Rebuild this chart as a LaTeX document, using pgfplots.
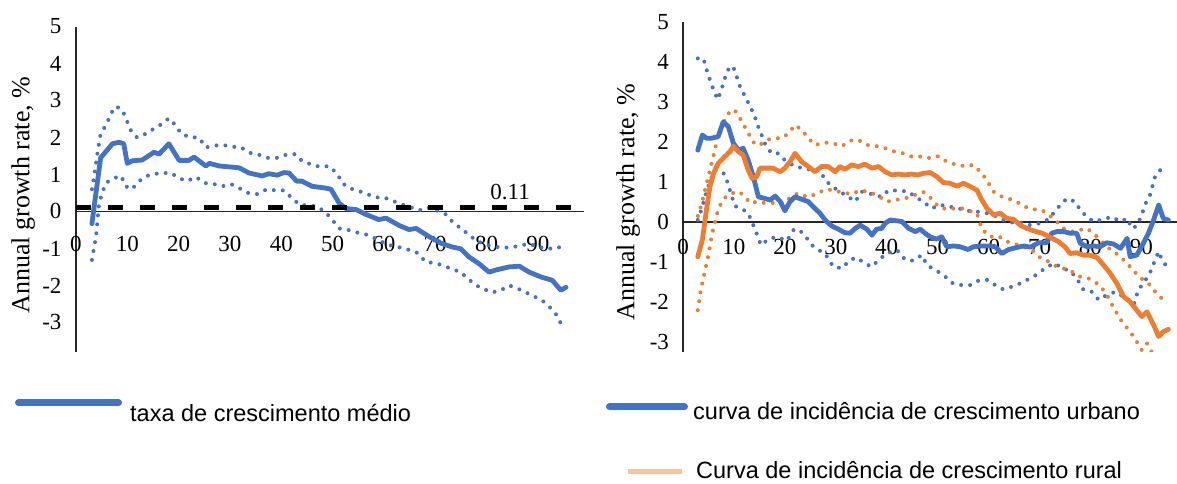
\documentclass[border=0pt]{standalone}
\usepackage{fontspec}
\setmainfont{Liberation Serif}
\newfontfamily\arial{Liberation Sans}
\usepackage{pgfplots}
\pgfplotsset{compat=1.18}
\definecolor{cblue}{HTML}{4472C4}
\definecolor{corange}{HTML}{ED7D31}
\definecolor{cpeach}{HTML}{F8C4A0}
\pgfplotsset{
  cgr/.style={
    scale only axis, anchor=south west,
    axis x line=middle, axis y line=left,
    axis line style={-, line width=1.8pt, black!85},
    xtick={0,10,...,90}, xticklabels={0,10,20,30,40,50,60,70,80,90},
    ytick={-3,...,5}, yticklabels={-3,-2,-1,0,1,2,3,4,5},
    major tick length=0pt,
    hide obscured x ticks=false, hide obscured y ticks=false,
    tick label style={font=\fontsize{23}{27}\selectfont},
    ylabel={Annual growth rate, \%},
    clip=true,
  },
  mean/.style={line width=4.8pt, line join=round, line cap=round},
  band/.style={line width=4pt, line cap=round, dash pattern=on 0pt off 9pt},
}
\begin{document}
\begin{tikzpicture}
\useasboundingbox (0,0) rectangle (1177pt,484pt);
% ---------------- left chart ----------------
\begin{axis}[cgr, at={(76pt,132pt)}, width=508pt, height=325.5pt,
  xmin=0, xmax=99, ymin=-3.8, ymax=5,
  xticklabel style={yshift=-21pt}, yticklabel style={xshift=-11pt},
  ylabel style={at={(axis description cs:-0.104,0.482)}, anchor=center, font=\fontsize{26}{30}\selectfont},
]
\addplot[band, cblue] coordinates {
(3.1,0.6) (3.6,1.0) (4.1,1.5) (4.8,2.1) (6,2.37) (6.8,2.65) (7.8,2.84) (9,2.75) (10.7,2.19) (11.9,2.0) (13.6,2.1) (15.2,2.24) (16.8,2.37) (18.1,2.52) (19.5,2.32) (20.5,2.1) (22,2.02) (24,1.99) (25.3,1.73) (26.9,1.78) (28.5,1.8) (30.4,1.75) (32.2,1.73) (33.7,1.59) (35.7,1.53) (37.2,1.45) (39.2,1.45) (40.9,1.53) (42.7,1.55) (44,1.37) (46,1.26) (47.8,1.2) (49.3,1.23) (50.9,1.02) (51.9,0.77) (53.2,0.63) (54.8,0.57) (56.7,0.47) (58.5,0.38) (60,0.38) (62,0.27) (63.5,0.19) (65.3,0.11) (66.9,0.03) (68.4,0.11) (70.2,0.03) (72.1,-0.08) (73.3,-0.27) (75,-0.46) (76.6,-0.63) (78,-0.79) (79.9,-0.9) (81.9,-0.96) (84.4,-0.98) (86.4,-0.93) (88.3,-0.87) (89.9,-0.96) (92.2,-1.01) (93.8,-0.96) (95.5,-1.01)
};
\addplot[band, cblue] coordinates {
(3.1,-1.31) (3.9,-0.68) (4.5,0.22) (5.1,0.49) (5.8,0.77) (7.4,0.9) (8.8,0.96) (9.7,0.68) (10.9,0.6) (12.3,0.82) (13.8,0.96) (15.6,1.02) (17.2,1.04) (18.5,1.04) (20.1,0.9) (21.6,0.82) (23.4,0.93) (25,0.77) (26.9,0.74) (28.5,0.68) (30.2,0.74) (31.8,0.63) (33.7,0.49) (35.3,0.47) (37.2,0.6) (39,0.57) (40.5,0.57) (42.1,0.36) (43.5,0.19) (45,0.16) (46.8,0.14) (48.5,0.0) (49.9,-0.22) (51.3,-0.46) (52.8,-0.49) (54.8,-0.57) (56.7,-0.63) (58.5,-0.74) (60,-0.85) (61.6,-0.93) (63.4,-0.98) (64.9,-1.04) (66.5,-1.12) (68.2,-1.37) (69.8,-1.39) (71.3,-1.45) (73.3,-1.56) (75,-1.64) (76.2,-1.8) (78,-2.0) (79.5,-2.1) (81.1,-2.19) (82.8,-2.13) (84.4,-2.0) (86,-2.08) (87.7,-2.19) (89.3,-2.3) (90.8,-2.4) (92.2,-2.57) (93.6,-2.79) (94.5,-3.03)
};
\addplot[mean, cblue] coordinates {
(3.1,-0.33) (4.8,1.45) (7.1,1.83) (8.4,1.87) (9.3,1.83) (10,1.3) (11,1.37) (12.9,1.39) (15.2,1.6) (16.2,1.55) (18.1,1.83) (20.1,1.38) (22,1.38) (23,1.47) (25.3,1.23) (26,1.3) (27.9,1.23) (31.8,1.18) (33.7,1.04) (36.3,0.96) (37.6,1.02) (39.2,0.98) (40.5,1.05) (41.5,1.04) (43,0.82) (44,0.82) (46,0.68) (48.7,0.63) (49.7,0.6) (51.3,0.22) (52.6,0.08) (54.6,0.05) (56.5,-0.08) (59,-0.22) (60.4,-0.18) (63,-0.38) (64.9,-0.49) (66.3,-0.46) (68.8,-0.68) (71.3,-0.87) (73.3,-0.96) (75,-1.01) (76.6,-1.23) (78.6,-1.42) (80.5,-1.64) (81.9,-1.58) (84.4,-1.5) (86.4,-1.48) (88.3,-1.64) (90.8,-1.78) (92.8,-1.86) (94.5,-2.13) (95.5,-2.05)
};
\addplot[black, line width=4.5pt, dash pattern=on 15pt off 17pt] coordinates {(0,0.11) (99,0.11)};
\node[font=\fontsize{23}{27}\selectfont] at (axis cs:84.6,0.53) {0.11};
\end{axis}
% ---------------- right chart ----------------
\begin{axis}[cgr, at={(683pt,132.3pt)}, width=494pt, height=329.2pt,
  xmin=0, xmax=97, ymin=-3.25, ymax=5,
  xticklabel style={yshift=-14pt}, yticklabel style={xshift=-10.5pt},
  ylabel style={at={(axis description cs:-0.111,0.455)}, anchor=center, font=\fontsize{26}{30}\selectfont},
]
\addplot[band, cblue] coordinates {
(2.9,4.10) (4.0,4.10) (4.6,3.83) (5.3,3.56) (6.0,3.31) (6.8,3.07) (7.5,3.29) (8.1,3.56) (8.8,3.81) (9.8,3.91) (10.5,3.66) (11.2,3.39) (12.2,3.14) (13.2,2.89) (14.0,2.68) (14.7,2.41) (15.5,2.16) (16.2,1.93) (17.4,1.72) (18.7,1.72) (20.0,1.55) (21.0,1.47) (22.0,1.39) (23.6,1.35) (25.3,1.30) (26.9,1.30) (27.9,1.05) (29.2,0.90) (30.8,0.76) (32.5,0.63) (33.8,0.51) (35.1,0.76) (36.4,0.72) (37.7,0.68) (39.0,0.63) (40.3,0.79) (42.3,0.79) (44.3,0.76) (45.6,0.63) (47.2,0.51) (48.8,0.34) (50.5,0.43) (52.5,0.38) (54.1,0.34) (56.1,0.28) (57.7,0.26) (59.7,0.22) (61.3,0.15) (62.9,0.05) (64.9,-0.02) (66.5,-0.02) (68.2,-0.08) (70.1,-0.03) (71.8,0.07) (72.8,0.23) (74.1,0.43) (75.4,0.59) (77.0,0.51) (78.0,0.30) (79.3,0.13) (80.6,0.01) (82.6,0.07) (84.2,0.13) (85.9,0.01) (87.3,0.09) (88.1,-0.16) (89.1,-0.10) (90.1,0.18) (90.7,0.43) (91.7,0.68) (92.7,1.14) (94.0,1.35)
};
\addplot[band, cblue] coordinates {
(2.9,0.05) (3.7,0.34) (4.3,0.63) (5.3,1.01) (6.1,1.30) (7.1,1.29) (8.2,1.20) (8.9,0.93) (9.6,0.63) (10.2,0.40) (11.5,0.34) (12.8,0.22) (13.8,-0.08) (14.5,-0.30) (15.3,-0.58) (16.8,-0.43) (18.4,-0.37) (20.4,-0.47) (21.7,-0.20) (22.7,-0.18) (24.0,-0.35) (25.3,-0.58) (26.6,-0.70) (27.9,-0.79) (29.5,-1.12) (31.2,-1.16) (32.8,-0.95) (34.1,-0.89) (35.7,-1.04) (37.1,-1.12) (38.4,-0.95) (40.0,-0.79) (42,-0.70) (43.6,-0.94) (45.2,-0.97) (46.9,-0.83) (47.9,-1.08) (49.8,-1.22) (51.5,-1.37) (53.1,-1.55) (54.7,-1.58) (56.4,-1.58) (58,-1.47) (59.7,-1.45) (61.3,-1.58) (62.9,-1.69) (64.6,-1.62) (66.2,-1.54) (68.2,-1.41) (69.8,-1.29) (71.4,-1.12) (73.1,-1.04) (74.4,-1.16) (76.0,-1.22) (77.3,-1.41) (78.6,-1.69) (80.3,-1.75) (81.6,-1.95) (83.2,-1.83) (84.9,-1.75) (86.2,-1.85) (87.5,-1.95) (88.5,-2.08) (89.4,-1.70) (90.4,-1.54) (91.7,-1.27) (92.7,-0.95) (93.4,-0.74) (94.0,-0.94) (95.0,-1.12)
};
\addplot[band, corange] coordinates {
(2.9,0.15) (3.7,0.47) (4.3,0.79) (5.0,1.14) (5.6,1.47) (6.2,1.76) (6.8,2.14) (7.6,2.39) (8.8,2.71) (10.1,2.82) (11.2,2.60) (12.2,2.37) (13.2,2.14) (14.1,1.95) (15.1,1.93) (16.4,2.05) (17.7,2.10) (19.4,2.10) (20.7,2.22) (22,2.43) (23.3,2.31) (24.6,2.10) (25.9,1.93) (27.9,1.99) (29.5,1.97) (31.2,1.90) (32.8,2.04) (34.4,2.06) (36.1,1.93) (38.0,1.90) (39.7,1.85) (41.6,1.76) (43.3,1.72) (44.9,1.64) (46.9,1.64) (48.5,1.60) (50.2,1.65) (51.8,1.51) (53.8,1.43) (55.4,1.40) (57.0,1.43) (58.7,1.22) (60.0,0.97) (61.0,0.76) (62.3,0.65) (63.9,0.59) (65.5,0.51) (67.2,0.38) (68.8,0.32) (70.5,0.30) (72.1,0.15) (73.4,0.01) (74.7,-0.16) (76.3,-0.24) (78.0,-0.20) (79.3,-0.16) (80.6,-0.28) (81.9,-0.45) (83.2,-0.62) (84.9,-0.77) (86.5,-0.95) (88.1,-1.16) (89.5,-1.37) (90.4,-1.45) (91.7,-1.58) (93.0,-1.79) (94.3,-1.95)
};
\addplot[band, corange] coordinates {
(2.9,-2.21) (3.5,-1.70) (4.2,-1.29) (5.0,-0.83) (5.6,-0.37) (6.2,-0.03) (6.8,0.26) (7.5,0.48) (8.4,0.63) (9.6,0.72) (11.0,0.76) (12.2,0.63) (13.2,0.47) (14.5,0.51) (15.8,0.48) (17.1,0.48) (18.7,0.47) (20.0,0.48) (21.3,0.65) (22.7,0.72) (24.3,0.63) (26.3,0.70) (27.9,0.82) (29.5,0.80) (31.2,0.74) (33.1,0.70) (34.8,0.79) (36.4,0.76) (38.4,0.65) (40.0,0.51) (41.6,0.55) (43.6,0.59) (45.6,0.68) (47.2,0.75) (48.5,0.62) (50.2,0.38) (51.8,0.32) (53.4,0.34) (55.1,0.34) (56.7,0.26) (57.7,0.22) (58.7,-0.18) (60.3,-0.37) (61.9,-0.35) (63.6,-0.49) (65.2,-0.55) (66.9,-0.63) (68.5,-0.70) (70.1,-0.89) (71.8,-0.99) (73.4,-1.12) (74.7,-1.16) (76.3,-1.24) (78.0,-1.37) (79.6,-1.41) (81.3,-1.54) (82.9,-1.75) (84.6,-2.16) (86.2,-2.50) (87.8,-2.75) (89.1,-3.00) (90.1,-3.21) (91.1,-3.04) (92.0,-3.25) (93,-3.4)
};
\addplot[mean, cblue] coordinates {
(2.9,1.80) (3.8,2.18) (4.6,2.10) (5.6,2.10) (6.9,2.14) (7.9,2.51) (8.9,2.39) (9.9,1.97) (10.9,1.80) (11.8,1.85) (12.8,1.55) (13.8,1.14) (14.8,0.63) (16.1,0.59) (17.1,0.55) (18.1,0.65) (19.1,0.51) (20.0,0.28) (21,0.51) (22,0.63) (23.3,0.57) (24.6,0.51) (25.9,0.34) (26.9,0.22) (27.9,0.05) (29.2,-0.10) (30.5,-0.18) (31.8,-0.27) (32.8,-0.28) (33.8,-0.16) (34.8,-0.08) (36.1,-0.18) (37.1,-0.33) (38.0,-0.18) (39.0,-0.16) (39.7,-0.03) (40.7,0.05) (42,0.03) (43,0.01) (44.3,-0.16) (45.6,-0.24) (46.6,-0.18) (47.5,-0.28) (48.5,-0.37) (49.8,-0.43) (50.8,-0.37) (51.8,-0.62) (53.1,-0.60) (54.4,-0.62) (56.0,-0.69) (57.0,-0.62) (58.7,-0.60) (60.3,-0.60) (61.3,-0.62) (62.6,-0.79) (63.9,-0.69) (65.5,-0.64) (66.9,-0.60) (68.2,-0.63) (69.8,-0.52) (71.4,-0.52) (72.4,-0.28) (73.4,-0.24) (74.7,-0.24) (76.0,-0.28) (77.3,-0.28) (78.0,-0.53) (79.3,-0.62) (80.6,-0.60) (81.9,-0.62) (83.2,-0.52) (84.5,-0.55) (85.9,-0.66) (87.2,-0.41) (87.8,-0.87) (89.1,-0.83) (90.4,-0.53) (91.4,-0.28) (92.4,0.05) (93.4,0.43) (94.3,0.09) (95.3,0.05)
};
\addplot[mean, corange] coordinates {
(2.9,-0.87) (3.8,-0.45) (4.6,0.30) (5.3,0.89) (6.0,1.22) (6.9,1.47) (8.2,1.64) (9.2,1.76) (9.9,1.90) (10.9,1.76) (11.8,1.68) (12.8,1.30) (13.6,1.09) (14.5,1.14) (15.1,1.35) (16.4,1.35) (17.7,1.35) (19.1,1.26) (20.0,1.35) (21.0,1.51) (22.0,1.72) (23.3,1.51) (24.6,1.39) (25.9,1.26) (27.2,1.39) (28.5,1.39) (29.9,1.26) (30.8,1.39) (31.8,1.32) (33.1,1.43) (34.4,1.39) (35.7,1.45) (37.1,1.35) (38.4,1.39) (39.7,1.26) (41.0,1.18) (42.3,1.20) (43.6,1.18) (44.9,1.20) (46.2,1.18) (47.2,1.22) (48.5,1.24) (49.8,1.14) (51.1,0.99) (52.4,0.97) (53.8,0.90) (55.1,0.97) (56.4,0.89) (57.7,0.80) (58.7,0.55) (59.7,0.34) (61.0,0.18) (62.3,0.22) (63.6,0.09) (64.9,0.07) (66.2,-0.08) (67.5,-0.16) (68.8,-0.22) (70.5,-0.28) (72.1,-0.38) (73.7,-0.49) (75.0,-0.62) (76.0,-0.79) (77.3,-0.77) (78.6,-0.83) (79.9,-0.83) (81.3,-0.89) (82.6,-1.08) (83.9,-1.29) (85.2,-1.54) (86.5,-1.87) (87.8,-2.00) (89.1,-2.21) (90.1,-2.37) (91.1,-2.25) (92.4,-2.58) (93.4,-2.87) (94.3,-2.75) (95.3,-2.69)
};
\end{axis}
% ---------------- legends ----------------
\draw[cblue, line width=7pt, line cap=round] (18.5pt,81pt) -- (118.5pt,81pt);
\node[anchor=base west, inner sep=0pt, font=\arial\fontsize{23.5}{28}\selectfont] at (130pt,62.3pt) {taxa de crescimento médio};
\draw[cblue, line width=7pt, line cap=round] (609.5pt,77pt) -- (684.5pt,77pt);
\node[anchor=base west, inner sep=0pt, font=\arial\fontsize{23.5}{28}\selectfont] at (693pt,64pt) {curva de incidência de crescimento urbano};
\draw[cpeach, line width=5pt] (628pt,12pt) -- (682pt,12pt);
\node[anchor=base west, inner sep=0pt, font=\arial\fontsize{23.5}{28}\selectfont] at (696pt,5pt) {Curva de incidência de crescimento rural};
\end{tikzpicture}
\end{document}
